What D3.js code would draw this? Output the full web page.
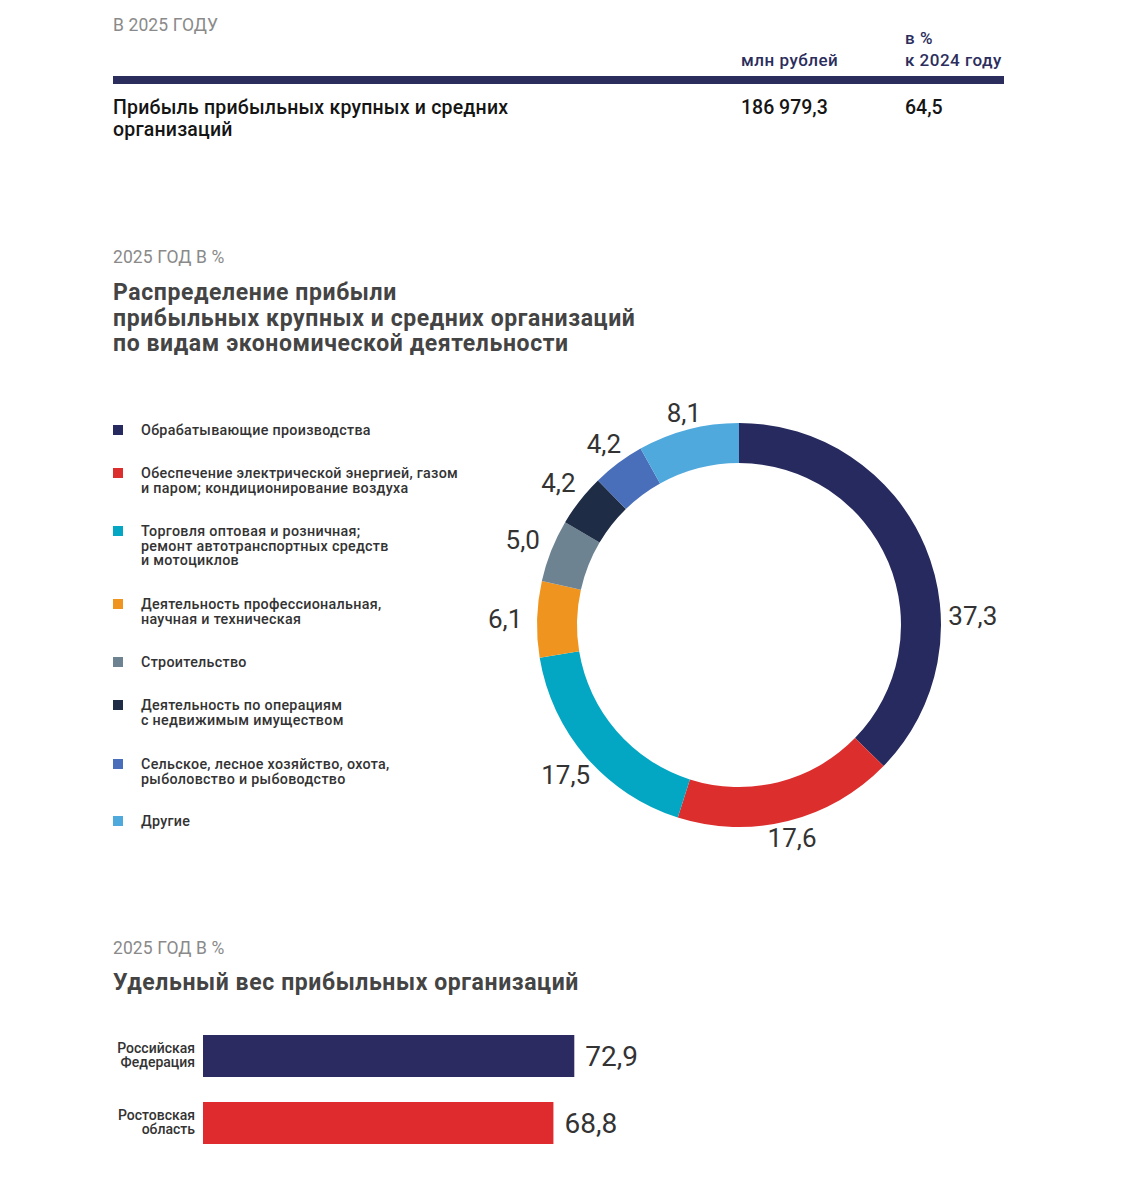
<!DOCTYPE html>
<html>
<head>
<meta charset="utf-8">
<script src="https://cdnjs.cloudflare.com/ajax/libs/d3/7.8.5/d3.min.js"></script>
<style>
  body { margin: 0; background: #fff; }
  svg { display: block; font-family: Roboto, "Noto Sans", sans-serif; }
</style>
</head>
<body>
<div id="bd"></div>
<script>
// --- data ---
var sectors = [
  "Обрабатывающие производства",
  "Обеспечение электрической энергией, газом|и паром; кондиционирование воздуха",
  "Торговля оптовая и розничная;|ремонт автотранспортных средств|и мотоциклов",
  "Деятельность профессиональная,|научная и техническая",
  "Строительство",
  "Деятельность по операциям|с недвижимым имуществом",
  "Сельское, лесное хозяйство, охота,|рыболовство и рыбоводство",
  "Другие"
];
var shares = [37.3, 17.6, 17.5, 6.1, 5.0, 4.2, 4.2, 8.1];
var sectorColors = ["#262a5e", "#dd2e2e", "#04a7c3", "#ef951f", "#6e8392", "#1e2c45", "#4a6fba", "#4fa9dd"];

var regions = ["Российская|Федерация", "Ростовская|область"];
var regionShares = [72.9, 68.8];
var regionColors = ["#2b2b62", "#df2b2d"];

var profit = "186 979,3", profitPct = "64,5";

var fmt = function (v) { return d3.format(".1f")(v).replace(".", ","); };

var W = 1140, H = 1200;
var svg = d3.select("#bd").append("svg")
    .attr("width", W)
    .attr("height", H);

// --- top table ---
var head = svg.append("g");
head.append("text").attr("x", 113).attr("y", 31)
    .attr("font-size", 17.5).attr("fill", "#8a8a8a").attr("letter-spacing", 0.1)
    .text("В 2025 ГОДУ");
head.append("text").attr("x", 741).attr("y", 66)
    .attr("font-size", 17).attr("font-weight", 500).attr("fill", "#2b2d5c").attr("letter-spacing", 0.5)
    .text("млн рублей");
head.append("text").attr("x", 905).attr("y", 44)
    .attr("font-size", 17).attr("font-weight", 500).attr("fill", "#2b2d5c").attr("letter-spacing", 0.5)
    .text("в %");
head.append("text").attr("x", 905).attr("y", 66)
    .attr("font-size", 17).attr("font-weight", 500).attr("fill", "#2b2d5c").attr("letter-spacing", 0.5)
    .text("к 2024 году");
head.append("rect").attr("x", 113).attr("y", 76).attr("width", 891).attr("height", 8).attr("fill", "#2b2d5c");
head.selectAll("text.row")
    .data(["Прибыль прибыльных крупных и средних", "организаций"])
    .enter().append("text")
    .attr("x", 113).attr("y", function (d, i) { return 114 + i * 22; })
    .attr("font-size", 19.5).attr("font-weight", 500).attr("fill", "#151515").attr("letter-spacing", 0.2)
    .text(function (d) { return d; });
head.append("text").attr("x", 741).attr("y", 114)
    .attr("font-size", 19.5).attr("font-weight", 500).attr("fill", "#151515")
    .text(profit);
head.append("text").attr("x", 905).attr("y", 114)
    .attr("font-size", 19.5).attr("font-weight", 500).attr("fill", "#151515")
    .text(profitPct);

// --- section titles ---
var sub = function (y, txt) {
    svg.append("text").attr("x", 113).attr("y", y)
        .attr("font-size", 17.5).attr("fill", "#8a8a8a").attr("letter-spacing", 0.1)
        .text(txt);
};
var title = function (y, lines) {
    svg.append("g").selectAll("text").data(lines).enter().append("text")
        .attr("x", 113).attr("y", function (d, i) { return y + i * 25.5; })
        .attr("font-size", 23).attr("font-weight", 700).attr("fill", "#444").attr("letter-spacing", 0.6)
        .text(function (d) { return d; });
};
sub(263, "2025 ГОД В %");
title(300, ["Распределение прибыли", "прибыльных крупных и средних организаций", "по видам экономической деятельности"]);

// --- legend ---
var legendY = [430, 473, 531, 604, 662, 705, 764, 821];
var legend = svg.append("g").selectAll("g")
    .data(sectors)
    .enter().append("g")
    .attr("transform", function (d, i) { return "translate(113," + legendY[i] + ")"; });
legend.append("rect")
    .attr("x", 0).attr("y", -5).attr("width", 10).attr("height", 10)
    .attr("fill", function (d, i) { return sectorColors[i]; });
legend.append("text")
    .attr("x", 28).attr("y", 5)
    .attr("font-size", 14.3).attr("font-weight", 500).attr("fill", "#333").attr("letter-spacing", 0.3)
    .selectAll("tspan")
    .data(function (d) { return d.split("|"); })
    .enter().append("tspan")
    .attr("x", 28).attr("dy", function (d, i) { return i ? 14.5 : 0; })
    .text(function (d) { return d; });

// --- donut ---
var cx = 739, cy = 625, rOut = 202, rIn = 162;
var pie = d3.pie().sort(null).value(function (d) { return d; });
var arc = d3.arc().innerRadius(rIn).outerRadius(rOut);
var arcs = pie(shares);
var donut = svg.append("g").attr("transform", "translate(" + cx + "," + cy + ")");
donut.selectAll("path")
    .data(arcs)
    .enter().append("path")
    .attr("d", arc)
    .attr("fill", function (d, i) { return sectorColors[i]; });

// the big slice has its label put near 3 o'clock, others at the middle of the slice
donut.selectAll("text")
    .data(arcs)
    .enter().append("text")
    .attr("transform", function (d, i) {
        var a = i === 0 ? Math.PI / 2 - 0.04 : (d.startAngle + d.endAngle) / 2;
        var r = 214 + 20 * Math.abs(Math.sin(a));
        return "translate(" + (r * Math.sin(a)) + "," + (-r * Math.cos(a)) + ")";
    })
    .attr("text-anchor", "middle")
    .attr("dy", "0.36em")
    .attr("font-size", 26).attr("font-weight", 400).attr("fill", "#333")
    .text(function (d) { return fmt(d.data); });

// --- bars ---
sub(954, "2025 ГОД В %");
title(990, ["Удельный вес прибыльных организаций"]);

var x = d3.scaleLinear().domain([0, 75]).range([0, 382]);
var y = d3.scaleBand().domain(regions).range([1035, 1144]).paddingInner(0.373).paddingOuter(0);

var bars = svg.append("g").attr("transform", "translate(203,0)");
bars.selectAll("rect")
    .data(regionShares)
    .enter().append("rect")
    .attr("x", 0)
    .attr("y", function (d, i) { return y(regions[i]); })
    .attr("width", function (d) { return x(d); })
    .attr("height", y.bandwidth())
    .attr("fill", function (d, i) { return regionColors[i]; });
bars.selectAll("text.val")
    .data(regionShares)
    .enter().append("text")
    .attr("class", "val")
    .attr("x", function (d) { return x(d) + 11; })
    .attr("y", function (d, i) { return y(regions[i]) + y.bandwidth() / 2; })
    .attr("dy", "0.36em")
    .attr("font-size", 28).attr("fill", "#333")
    .text(function (d) { return fmt(d); });
bars.selectAll("text.cat")
    .data(regions)
    .enter().append("text")
    .attr("class", "cat")
    .attr("text-anchor", "end")
    .attr("font-size", 14).attr("font-weight", 500).attr("fill", "#333")
    .selectAll("tspan")
    .data(function (d) { return d.split("|").map(function (s) { return [s, d]; }); })
    .enter().append("tspan")
    .attr("x", -8)
    .attr("y", function (d, i) { return y(d[1]) + y.bandwidth() / 2 - 3 + (i ? 14 : 0); })
    .text(function (d) { return d[0]; });
</script>
</body>
</html>
